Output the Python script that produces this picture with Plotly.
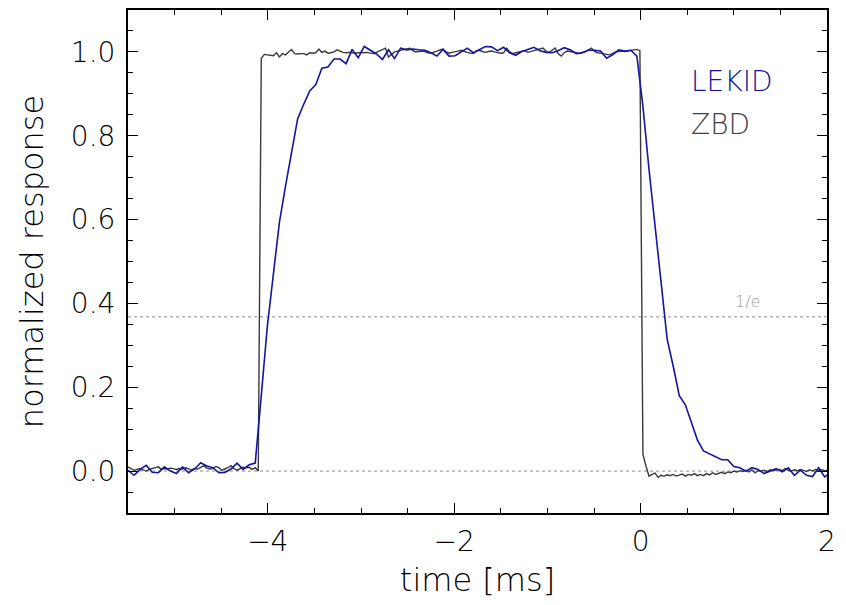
import numpy as np
import plotly.graph_objects as go

# ---- data ----
lekid_t0 = -5.5
lekid_dt = 0.065
lekid_values = [
    0.002, -0.010, 0.004, 0.014, -0.003, -0.004, 0.010, 0.000, -0.006, 0.010, -0.004,
    0.005, 0.020, 0.012, 0.008, -0.004, -0.003, 0.005, 0.019, 0.004, 0.015, 0.019,
    0.18, 0.345, 0.47, 0.594, 0.68, 0.765, 0.84, 0.875, 0.907, 0.922, 0.961, 0.964,
    0.983, 0.983, 0.972, 1.006, 0.986, 1.013,
    1.004, 0.995, 0.982, 1.005, 0.984, 1.009, 1.005, 1.007, 1.005, 1.004, 0.998, 0.990,
    1.006, 0.990, 0.991, 1.000, 1.009, 0.998, 1.005, 1.013, 1.012, 1.003, 1.011, 0.998,
    0.992, 1.001, 1.006, 1.011, 1.003, 0.999, 0.998, 1.003, 1.010, 1.005, 0.996, 0.998,
    1.004, 1.004, 1.002, 0.985, 0.993, 1.005, 1.002, 1.004,
    0.99, 0.87, 0.72, 0.58, 0.44, 0.315, 0.25, 0.18, 0.158, 0.117, 0.074, 0.048,
    0.041, 0.033, 0.027, 0.027,
    0.011, 0.008, 0.000, 0.008, 0.004, -0.006, 0.000, 0.006, -0.002, 0.008, -0.010,
    0.002, -0.010, -0.013, 0.008, -0.014, -0.004,
]

zbd_t0 = -5.5
zbd_dt = 0.0325
zbd_values = [
    # baseline
    0.010, 0.006, 0.002, 0.004, 0.006, 0.003, 0.000, 0.004, 0.006, 0.009, 0.010, 0.004,
    0.006, 0.005, 0.007, 0.006, 0.004, 0.006, 0.005, 0.008, 0.006, 0.003, 0.006, 0.005,
    0.009, 0.013, 0.007, 0.005, 0.006, 0.011, 0.008, 0.002, 0.005, 0.008, 0.013, 0.006,
    0.002, 0.005, 0.009, 0.008, 0.009, 0.004, 0.008, 0.000,
    # plateau
    0.985, 0.994, 0.993, 0.992, 0.991, 0.998, 0.988, 0.996, 0.993, 1.000, 1.006, 0.996,
    0.995, 0.996, 0.996, 0.993, 0.998, 0.997, 0.998, 1.007, 0.999, 1.002, 0.997, 0.998,
    1.000, 1.005, 1.001, 0.999, 0.998, 0.999, 0.998, 0.997, 0.998, 0.999,
    0.998, 0.999, 0.997, 0.996, 0.999, 1.002, 1.006, 1.009, 0.988, 0.994, 1.000, 1.002,
    1.004, 1.005, 1.007, 1.009, 1.003, 1.000, 1.001, 1.002, 1.001, 0.998, 0.997, 0.999,
    1.002, 1.005, 1.007, 1.000, 0.997, 0.999, 1.000, 1.002, 1.004, 1.001, 0.999, 0.997,
    0.996, 1.002, 1.004, 1.001, 0.999, 1.001, 1.002, 1.000, 0.999, 0.997, 0.998, 1.009,
    1.000,
    0.996, 0.998, 1.000, 1.002, 1.003, 0.999, 1.001, 1.003, 1.005, 1.007, 1.009, 1.002,
    0.999, 1.004, 1.009, 0.996, 0.990, 0.998, 1.002, 1.001, 1.000, 0.998, 0.996, 0.998,
    1.001, 1.005, 1.009, 1.001, 0.998, 0.997, 0.995, 0.994, 0.993, 0.997, 1.000, 1.001,
    1.002, 1.001, 1.002, 1.003, 1.004, 1.006, 1.003,
    # after the step
    0.040, 0.012, -0.012, -0.008, -0.005, -0.015,
    -0.010, -0.012, -0.009, -0.011, -0.008, -0.012, -0.009, -0.007, -0.012, -0.008,
    -0.010, -0.006, -0.011, -0.008,
    -0.011, -0.006, -0.009, -0.004, -0.008, -0.005, -0.003, -0.006, -0.002, -0.004,
    0.000, -0.002, 0.001, -0.001, 0.002, -0.002, 0.003, -0.004, 0.001, 0.000,
    0.002, -0.001, 0.003, 0.001, 0.002, 0.004, 0.001, 0.006, 0.002, 0.000,
    0.003, 0.001, 0.004, 0.002, -0.001, 0.003, 0.000, 0.004, 0.002, 0.003, 0.001, 0.002,
]

x_range = [-5.5, 2.0]
y_range = [-0.1, 1.1]
inv_e = float(np.exp(-1.0))

lekid_t = lekid_t0 + lekid_dt * np.arange(len(lekid_values))
zbd_t = zbd_t0 + zbd_dt * np.arange(len(zbd_values))

BLUE = "#1414a0"
GREY = "#3a3a3a"
FONT = "DejaVu Sans"
W = 200

fig = go.Figure()
fig.add_trace(go.Scatter(x=zbd_t, y=zbd_values, mode="lines", name="ZBD",
                         line=dict(color=GREY, width=1.4), showlegend=False))
fig.add_trace(go.Scatter(x=lekid_t, y=lekid_values, mode="lines", name="LEKID",
                         line=dict(color=BLUE, width=1.6), showlegend=False))

for yv in (inv_e, 0.0):
    fig.add_shape(type="line", xref="paper", yref="y", x0=0, x1=1, y0=yv, y1=yv,
                  line=dict(color="#8c8c8c", width=1, dash="dot"), layer="below")

fig.add_annotation(x=0.907, xref="paper", y=inv_e, yref="y", yshift=15,
                   text="1/e", showarrow=False,
                   font=dict(family=FONT, size=16, color="#9a9a9a", weight=W))
fig.add_annotation(x=0.8026, xref="paper", y=0.858, yref="paper", xanchor="left", yanchor="middle",
                   text="LEKID", showarrow=False,
                   font=dict(family=FONT, size=28, color=BLUE, weight=W))
fig.add_annotation(x=0.8026, xref="paper", y=0.772, yref="paper", xanchor="left", yanchor="middle",
                   text="ZBD", showarrow=False,
                   font=dict(family=FONT, size=28, color="#404040", weight=W))

axis_common = dict(showgrid=False, zeroline=False, showline=True, linecolor="black",
                   linewidth=2, mirror="allticks", ticks="inside", tickcolor="black",
                   tickwidth=1.3, ticklen=10,
                   tickfont=dict(family=FONT, size=28, color="black", weight=W))

fig.update_xaxes(range=x_range, tick0=0, dtick=2,
                 minor=dict(tick0=0, dtick=0.5, ticks="inside", ticklen=5, tickcolor="black", tickwidth=1.3),
                 title=dict(text="time [ms]", font=dict(family=FONT, size=32, color="black", weight=W), standoff=12),
                 ticklabelstandoff=2,
                 **axis_common)
fig.update_yaxes(range=y_range, tick0=0, dtick=0.2, tickformat=".1f",
                 minor=dict(tick0=0, dtick=0.05, ticks="inside", ticklen=5, tickcolor="black", tickwidth=1.3),
                 title=dict(text="normalized response", font=dict(family=FONT, size=32, color="black", weight=W), standoff=18),
                 ticklabelstandoff=5,
                 **axis_common)

# the page body adds an 8 px offset; size the figure so the plot area lands where the reference has it
fig.update_layout(width=838, height=597, autosize=False,
                  margin=dict(l=120, r=19, t=0, b=92),
                  paper_bgcolor="white", plot_bgcolor="white",
                  font=dict(family=FONT))

fig.write_html("out.html")
